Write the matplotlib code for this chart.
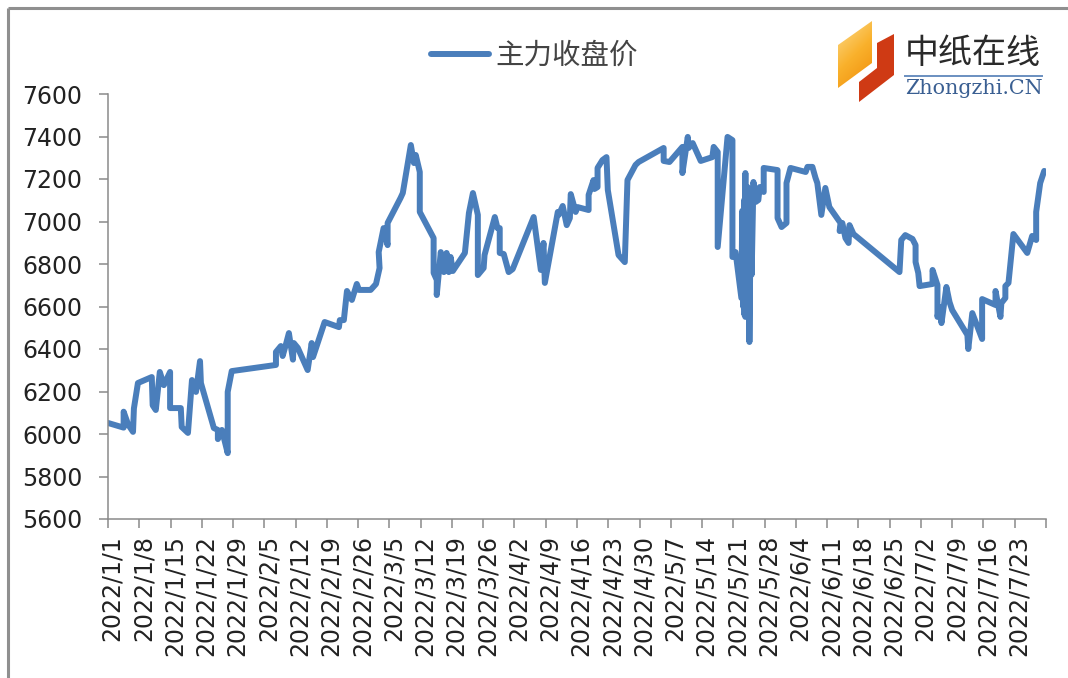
import numpy as np
import matplotlib.pyplot as plt
from matplotlib.patches import Polygon
from matplotlib.transforms import ScaledTranslation

plt.rcParams['font.family'] = ['DejaVu Sans', 'Noto Sans CJK SC']

series_name = "主力收盘价"

# days since 2022/1/1
days = [0, 3.5, 3.5, 4.5, 5.6, 5.8, 6.7, 9.8, 10, 10.7, 11.6, 12.5, 13.9, 13.9, 16.3, 16.5, 17.9,
        18.8, 19.7, 20.6, 20.8, 23.7, 24.6, 24.6, 25.5, 26.8, 26.8, 27.7, 37.6, 37.6, 38.7, 39.1,
        39.8, 40.5, 41.4, 41.6, 42.5, 44.7, 45.6, 45.9, 48.5, 51.7, 51.9, 52.8, 53.5, 54.6, 55.7,
        56.2, 58.8, 60, 60.8, 60.6, 61.7, 62.6, 62.6, 65.5, 66, 67.8, 68.5, 68.9, 69.8, 69.8,
        72.9, 72.9, 73.6, 73.6, 74.5, 75.2, 75.8, 76.3, 76.7, 77.2, 79.9, 80.8, 81.7, 82.8, 82.8,
        84.1, 84.3, 86.6, 87.2, 87.7, 87.7, 88.6, 89.7, 90.6, 95.3, 96.9, 97.5, 97.8, 100.7,
        100.9, 101.8, 102.7, 103.4, 103.6, 104.7, 105.1, 107.6, 107.6, 108.7, 108.9, 109.6,
        109.6, 110.7, 111.6, 111.9, 114.3, 115.7, 116.3, 118.1, 118.8, 124.4, 124.4, 125.7,
        128.6, 128.6, 129.8, 130, 130.9, 132, 132.7, 135.3, 135.6, 136.5, 136.5, 138.7, 139.8,
        139.8, 140.5, 141.8, 142.0, 142.2, 142.4, 142.5, 142.7, 142.7, 143.0, 143.1, 143.2,
        143.4, 143.5, 143.6, 143.9, 144.1, 144.5, 145, 145.6, 145.9, 146.8, 146.8, 149.9, 149.9,
        150.8, 151.9, 151.9, 152.8, 156.2, 156.6, 157.7, 158.4, 158.8, 159.7, 160.6, 161.5, 164,
        163.8, 164.4, 165.1, 165.8, 166, 166.9, 177.2, 177.6, 178.5, 180.1, 180.8, 180.8, 181.4,
        181.7, 184.6, 184.6, 185.7, 185.7, 186.1, 186.6, 187.7, 188.4, 189, 192.4, 192.6, 193.5,
        195.7, 195.7, 198.7, 198.7, 199.8, 200, 200.9, 200.9, 201.6, 202.7, 205.8, 206.9, 207.8,
        207.8, 208.7, 209.6]

close = [6052, 6030, 6105, 6045, 6010, 6120, 6240, 6268, 6135, 6113, 6292, 6230, 6292, 6122, 6122,
         6033, 6005, 6254, 6198, 6343, 6240, 6028, 6019, 5976, 6019, 5910, 6198, 6296, 6325, 6386,
         6414, 6367, 6419, 6475, 6350, 6428, 6405, 6301, 6428, 6362, 6527, 6503, 6536, 6536, 6673,
         6631, 6706, 6678, 6678, 6706, 6781, 6856, 6969, 6889, 6993, 7111, 7134, 7360, 7275, 7313,
         7233, 7045, 6922, 6758, 6725, 6654, 6856, 6762, 6852, 6762, 6833, 6767, 6852, 7040, 7134,
         7031, 6748, 6781, 6842, 7021, 6969, 6969, 6852, 6847, 6762, 6776, 7021, 6772, 6899, 6711,
         7045, 7031, 7073, 6983, 7016, 7129, 7045, 7068, 7054, 7125, 7195, 7153, 7162, 7252, 7289,
         7303, 7148, 6842, 6809, 7195, 7266, 7280, 7346, 7285, 7280, 7351, 7228, 7398, 7346, 7369,
         7318, 7285, 7303, 7351, 7327, 6880, 7398, 7383, 6833, 6856, 6640, 7050, 6600, 7100, 6560,
         7228, 6551, 7100, 6600, 7162, 6600, 7100, 6433, 7050, 6750, 7186, 7092, 7101, 7162, 7139,
         7252, 7242, 7016, 6974, 6993, 7181, 7252, 7233, 7257, 7257, 7205, 7181, 7031, 7158, 7068,
         6993, 6955, 6993, 6922, 6899, 6983, 6941, 6762, 6913, 6936, 6918, 6889, 6809, 6758, 6696,
         6706, 6772, 6701, 6551, 6598, 6522, 6692, 6621, 6583, 6466, 6400, 6569, 6447, 6635, 6607,
         6673, 6551, 6616, 6640, 6696, 6711, 6941, 6852, 6932, 6913, 7045, 7181, 7238]

date_labels = ["2022/1/1", "2022/1/8", "2022/1/15", "2022/1/22", "2022/1/29", "2022/2/5", "2022/2/12",
               "2022/2/19", "2022/2/26", "2022/3/5", "2022/3/12", "2022/3/19", "2022/3/26", "2022/4/2",
               "2022/4/9", "2022/4/16", "2022/4/23", "2022/4/30", "2022/5/7", "2022/5/14", "2022/5/21",
               "2022/5/28", "2022/6/4", "2022/6/11", "2022/6/18", "2022/6/25", "2022/7/2", "2022/7/9",
               "2022/7/16", "2022/7/23"]
y_ticks = [5600, 5800, 6000, 6200, 6400, 6600, 6800, 7000, 7200, 7400, 7600]

W, H = 1068, 678
fig = plt.figure(figsize=(W / 100, H / 100), dpi=100, facecolor='white')
ax = fig.add_axes([108 / W, 1 - 519 / H, 938 / W, 425 / H])

line, = ax.plot(days, close, color='#4a7ebb', lw=4.3, solid_joinstyle='round', solid_capstyle='round')
ax.set_xlim(0, 210)
ax.set_ylim(5600, 7600)
ax.set_yticks(y_ticks)
ax.set_xticks(list(np.arange(len(date_labels)) * 7) + [210])
ax.set_xticklabels(date_labels + [""], rotation=90, ha='center', va='top')

ax.spines['top'].set_visible(False)
ax.spines['right'].set_visible(False)
for s in ['left', 'bottom']:
    ax.spines[s].set_color('#8a8a8a')
    ax.spines[s].set_linewidth(1.1)
ax.tick_params(axis='both', length=6.5, width=1.1, color='#8a8a8a', labelsize=17, labelcolor='#222222')
ax.tick_params(axis='x', pad=5)
ax.tick_params(axis='y', pad=12)

# the rotated labels sit a little right of their ticks
shift = ScaledTranslation(3 / 72, 0, fig.dpi_scale_trans)
for t in ax.get_xticklabels():
    t.set_transform(t.get_transform() + shift)

ax.legend([line], [series_name], loc='center left', bbox_to_anchor=(431 / W, 1 - 56 / H),
          bbox_transform=fig.transFigure, frameon=False, labelcolor='#444444',
          handlelength=2.05, handletextpad=0.2, borderpad=0, borderaxespad=0,
          prop={'family': ['Noto Sans CJK SC'], 'size': 20.5, 'weight': 'light'})

# overlay in pixel coords for the outer frame and the logo
ov = fig.add_axes([0, 0, 1, 1], facecolor='none')
ov.set_xlim(0, W)
ov.set_ylim(H, 0)
ov.axis('off')
ov.plot([8, W], [8, 8], color='#8f8f8f', lw=2.2, solid_capstyle='butt')
ov.plot([8, 8], [8, H], color='#8f8f8f', lw=2.2, solid_capstyle='butt')

orange = Polygon([(838, 45), (872, 21), (872, 63), (838, 88)], closed=True, fc='none', ec='none')
ov.add_patch(orange)
grad = np.linspace(0, 1, 64).reshape(-1, 1) + np.linspace(0, 0.5, 64).reshape(1, -1)
cm = plt.matplotlib.colors.LinearSegmentedColormap.from_list('o', ['#fcdc8e', '#f9b12c', '#f08c08'])
img = ov.imshow(grad, extent=(838, 872, 88, 21), cmap=cm, aspect='auto', zorder=2)
img.set_clip_path(orange)
ov.set_xlim(0, W)
ov.set_ylim(H, 0)
ov.add_patch(Polygon([(877, 43), (894, 34), (894, 75), (859, 102), (859, 82), (877, 68)],
                     closed=True, fc='#cf3a14', ec='none', zorder=2))
ov.text(973, 53, "中纸在线", family=['Noto Sans CJK SC'], fontsize=24.5, color='#2a2a2a',
        ha='center', va='center')
ov.plot([905, 1042], [76, 76], color='#6a8fc0', lw=1.4)
ov.text(973.5, 89, "Zhongzhi.CN", family=['DejaVu Serif'], fontsize=14.9, color='#3a5f92',
        ha='center', va='center')

fig.savefig('out.png', dpi=100)
